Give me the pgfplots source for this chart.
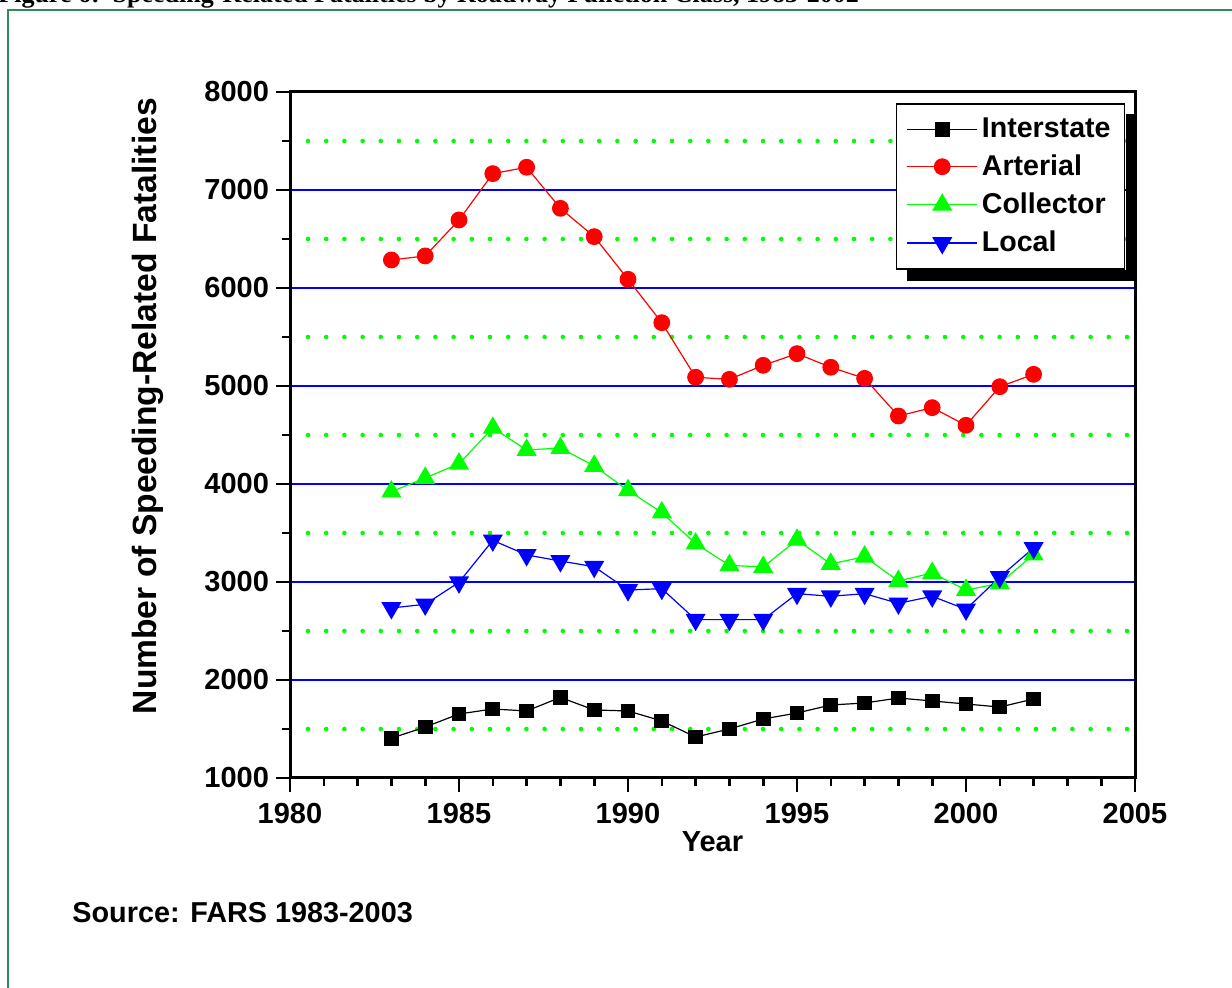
\documentclass[border=0pt]{standalone}
\usepackage{fontspec}
\setmainfont{Liberation Sans}
\newfontfamily\titlefont{Liberation Serif}
\usepackage{pgfplots}
\pgfplotsset{compat=1.18}
\definecolor{framegreen}{RGB}{46,139,87}
\definecolor{dotgreen}{RGB}{0,255,0}

\begin{document}
\begin{tikzpicture}
\clip (0,0) rectangle (616pt,494pt);
% title, cut off at the top edge as in the original
\node[anchor=base west, inner sep=0pt, font=\titlefont\bfseries\fontsize{13}{15}\selectfont]
  at (-1pt,492.5pt) {Figure 6:\ \ Speeding-Related Fatalities by Roadway Function Class, 1983-2002};
\draw[framegreen, line width=1pt] (3.75pt,-10pt) -- (3.75pt,489pt) -- (640pt,489pt);

\begin{axis}[
  scale only axis, width=422.5pt, height=343pt,
  at={(145pt,105pt)}, anchor=south west,
  xmin=1980, xmax=2005, ymin=1000, ymax=8000,
  xtick={1980,1985,...,2005}, minor x tick num=4,
  ytick={2000,3000,...,7000}, minor ytick={1500,2500,...,7500},
  extra y ticks={1000,8000}, extra y tick style={grid=none},
  ymajorgrids, yminorgrids,
  major grid style={blue, line width=1.1pt},
  minor grid style={dotgreen, line width=2.3pt, line cap=round, dash pattern=on 0pt off 9.1pt, dash phase=0.1pt},
  tick align=outside, xtick pos=bottom, ytick pos=left,
  major tick length=7pt, minor tick length=3.8pt,
  every tick/.style={black, line width=1.3pt},
  axis line style={line width=1.5pt},
  tick label style={font=\bfseries\fontsize{14.5}{17}\selectfont},
  xticklabel style={yshift=-2pt},
  /pgf/number format/assume math mode=true, /pgf/number format/1000 sep={},
  xlabel={Year},
  xlabel style={font=\bfseries\fontsize{14.5}{17}\selectfont, at={(axis description cs:0.5,0)}, anchor=base, yshift=-37pt},
  ylabel={Number of Speeding-Related Fatalities},
  ylabel style={font=\bfseries\fontsize{16.8}{19}\selectfont, at={(axis description cs:-0.168,0.542)}, anchor=center},
  legend style={name=leg, at={(axis description cs:0.717,0.984)}, anchor=north west,
    draw=black, line width=0.8pt, fill=white,
    font=\bfseries\fontsize{14.3}{17}\selectfont,
    inner xsep=5pt, inner ysep=5pt, row sep=3.2pt},
  legend cell align=left,
  legend image code/.code={\draw[mark repeat=2, mark phase=2, #1] plot coordinates {(0pt,0pt) (17.5pt,0pt) (35pt,0pt)};},
]
\addplot[black, line width=0.6pt, mark=square*, mark size=3.4pt] coordinates {
 (1983,1406) (1984,1520) (1985,1653) (1986,1704) (1987,1684) (1988,1822) (1989,1694) (1990,1684)
 (1991,1582) (1992,1418) (1993,1500) (1994,1602) (1995,1663) (1996,1745) (1997,1765) (1998,1816)
 (1999,1786) (2000,1755) (2001,1724) (2002,1806)};
\addlegendentry{Interstate}
\addplot[red, line width=0.6pt, mark=*, mark size=3.9pt] coordinates {
 (1983,6286) (1984,6327) (1985,6694) (1986,7167) (1987,7232) (1988,6813) (1989,6524) (1990,6089)
 (1991,5646) (1992,5089) (1993,5068) (1994,5211) (1995,5330) (1996,5191) (1997,5078) (1998,4694)
 (1999,4779) (2000,4599) (2001,4993) (2002,5119)};
\addlegendentry{Arterial}
\addplot[dotgreen, line width=0.6pt, mark=triangle*, mark size=5.2pt] coordinates {
 (1983,3922) (1984,4061) (1985,4207) (1986,4572) (1987,4347) (1988,4367) (1989,4184) (1990,3935)
 (1991,3709) (1992,3391) (1993,3170) (1994,3153) (1995,3430) (1996,3184) (1997,3258) (1998,3010)
 (1999,3092) (2000,2918) (2001,2986) (2002,3279)};
\addlegendentry{Collector}
\addplot[blue, line width=0.6pt, mark=triangle*, mark size=5.2pt, mark options={rotate=180}] coordinates {
 (1983,2735) (1984,2772) (1985,2997) (1986,3425) (1987,3276) (1988,3214) (1989,3156) (1990,2918)
 (1991,2932) (1992,2616) (1993,2616) (1994,2616) (1995,2881) (1996,2854) (1997,2881) (1998,2782)
 (1999,2854) (2000,2721) (2001,3051) (2002,3347)};
\addlegendentry{Local}
\end{axis}

% legend shadow (right and bottom strips)
\fill[black] ([shift={(0.4pt,-5.5pt)}]leg.north east) rectangle ([shift={(5.9pt,-5.9pt)}]leg.south east);
\fill[black] ([shift={(5.5pt,-0.4pt)}]leg.south west) rectangle ([shift={(5.9pt,-5.9pt)}]leg.south east);

\node[anchor=base west, inner sep=0pt, font=\bfseries\fontsize{14.4}{17}\selectfont]
  at (36pt,32.5pt) {Source: FARS 1983-2003};
\end{tikzpicture}
\end{document}
